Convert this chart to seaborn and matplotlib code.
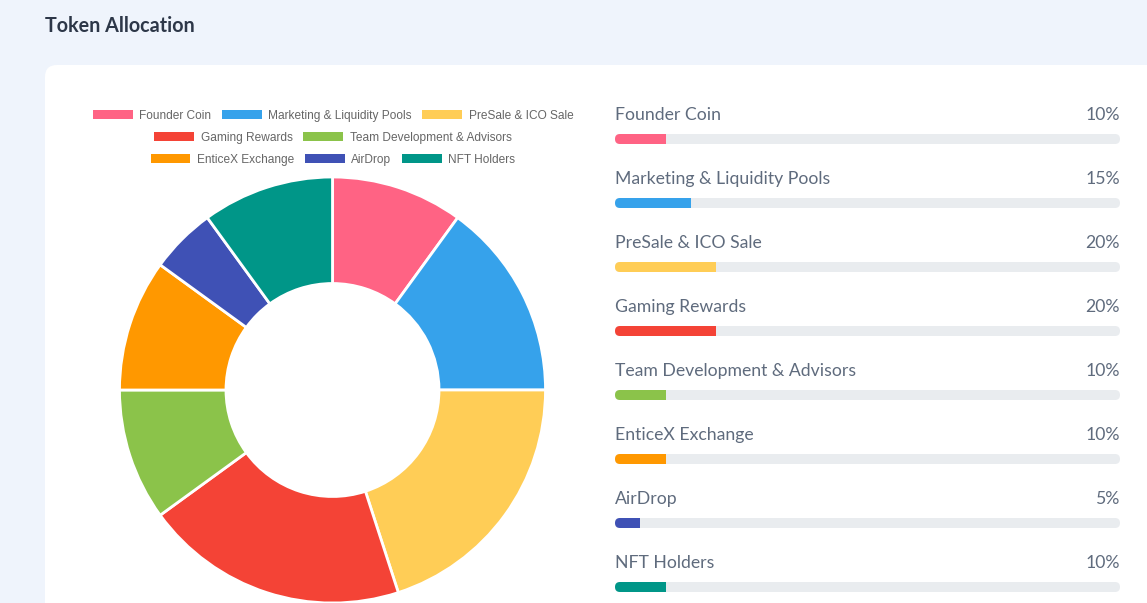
import numpy as np
import matplotlib
matplotlib.use("Agg")
import matplotlib.pyplot as plt
from matplotlib.patches import FancyBboxPatch, Patch
from matplotlib.transforms import IdentityTransform
import seaborn as sns

labels = ["Founder Coin", "Marketing & Liquidity Pools", "PreSale & ICO Sale",
          "Gaming Rewards", "Team Development & Advisors", "EnticeX Exchange",
          "AirDrop", "NFT Holders"]
values = [10, 15, 20, 20, 10, 10, 5, 10]
colors = ["#FF6384", "#36A2EB", "#FFCD56", "#F44336", "#8BC34A", "#FF9800",
          "#3F51B5", "#009688"]
legend_rows = [[0, 1, 2], [3, 4], [5, 6, 7]]
title = "Token Allocation"
track = [100] * len(labels)

sns.set_theme(style="white")
plt.rcParams["font.family"] = ["Lato", "DejaVu Sans"]

W, H = 1147, 603
DPI = 100
fig = plt.figure(figsize=(W / DPI, H / DPI), dpi=DPI)
fig.patch.set_facecolor("#EFF4FC")

# white card
card = FancyBboxPatch((45, -30), 1200, H - 65 + 30,
                      boxstyle="round,pad=0,rounding_size=12",
                      transform=IdentityTransform(), facecolor="white",
                      edgecolor="none", zorder=-5)
fig.patches.append(card)

fig.text(45 / W, 1 - 26 / H, title, ha="left", va="center",
         fontsize=14.2, fontweight="bold", color="#2D3748")

# ---------- doughnut ----------
R = 213
cx, cy = 332.5, 390
pax = fig.add_axes([(cx - R) / W, (H - cy - R) / H, 2 * R / W, 2 * R / H])
wedges, _ = pax.pie(values, colors=colors, startangle=90, counterclock=False,
                    wedgeprops=dict(width=0.5, edgecolor="white", linewidth=2))
for w in wedges:
    w.set_clip_on(False)
pax.set_xlim(-1, 1)
pax.set_ylim(-1, 1)
pax.set_aspect("equal")
pax.set_axis_off()

# legend rows (chart.js style)
row_y = [116, 138, 160]
for r, idx in enumerate(legend_rows):
    handles = [Patch(facecolor=colors[i], edgecolor="none") for i in idx]
    fig.legend(handles, [labels[i] for i in idx], ncol=len(idx),
               loc="center", bbox_to_anchor=(333 / W, 1 - row_y[r] / H),
               frameon=False, prop={"family": ["Liberation Sans"], "size": 8.55},
               labelcolor="#666666", handlelength=3.35, handleheight=0.8,
               handletextpad=0.55, columnspacing=0.9, borderpad=0,
               borderaxespad=0)

# ---------- progress bars ----------
by0 = 139
top_px, bot_px = by0 - 0.7 * 64, by0 + 7.2 * 64
bax = fig.add_axes([615 / W, (H - bot_px) / H, 505 / W, (bot_px - top_px) / H])
sns.barplot(x=track, y=labels, orient="h", color="#E9ECEF", width=10 / 64,
            saturation=1, linewidth=0, ax=bax)
n_track = len(bax.patches)
sns.barplot(x=values, y=labels, hue=labels, palette=colors, orient="h",
            width=10 / 64, saturation=1, linewidth=0, legend=False,
            dodge=False, ax=bax)
bax.set_xlim(0, 100)
bax.set_ylim(7.2, -0.7)
bax.set_axis_off()

tracks = list(bax.patches[:n_track])
fills = list(bax.patches[n_track:])
for p in tracks:
    x, y, w, h = p.get_x(), p.get_y(), p.get_width(), p.get_height()
    rb = FancyBboxPatch((x, y), w, h,
                        boxstyle=f"round,pad=0,rounding_size={5 * 100 / 505}",
                        mutation_aspect=(1 / 64) / (100 / 505),
                        facecolor=p.get_facecolor(), edgecolor="none",
                        transform=bax.transData, zorder=1)
    bax.add_patch(rb)
    p.set_visible(False)
    yc = y + h / 2
    for f in fills:
        if abs((f.get_y() + f.get_height() / 2) - yc) < 1e-6:
            f.set_zorder(2)
            f.set_clip_path(rb)

for i, (lab, v) in enumerate(zip(labels, values)):
    bax.text(0, i - 0.37, lab, ha="left", va="center", fontsize=12.7,
             color="#5F6B7D")
    bax.text(100, i - 0.37, f"{v}%", ha="right", va="center", fontsize=12.7,
             color="#5F6B7D")

fig.savefig("out.png", dpi=DPI, facecolor=fig.get_facecolor())
